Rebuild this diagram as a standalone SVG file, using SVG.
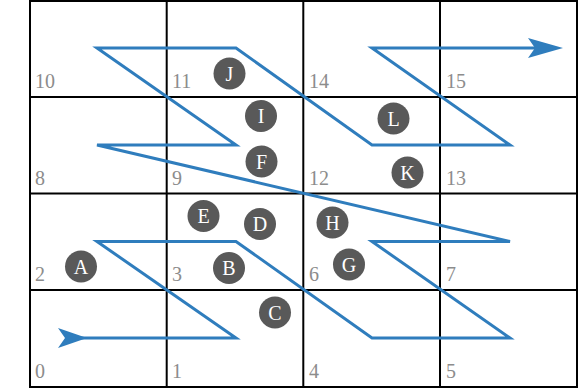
<svg xmlns="http://www.w3.org/2000/svg" width="579" height="391" viewBox="0 0 579 391">
<style>
.grid{fill:none;stroke:#000;stroke-width:2}
.num{font-family:"Liberation Serif",serif;font-size:20px;fill:#8c8c8c}
.dot circle{fill:#595959}
.dot text{font-family:"Liberation Serif",serif;font-size:20px;fill:#fff;text-anchor:middle}
.curve{fill:none;stroke:#2f7dbd;stroke-width:3;stroke-linejoin:miter}
.head{fill:#2f7dbd}
</style>
<rect width="579" height="391" fill="#fff"/>
<g id="grid">
<rect class="grid" x="30" y="1" width="547" height="386"/>
<path class="grid" d="M166.7 1V387M303.3 1V387M440 1V387M30 97H577M30 193.5H577M30 290H577"/>
</g>
<g id="cell-labels">
<text class="num" x="35" y="88">10</text>
<text class="num" x="172" y="88">11</text>
<text class="num" x="309" y="88">14</text>
<text class="num" x="446" y="88">15</text>
<text class="num" x="35" y="185">8</text>
<text class="num" x="172" y="185">9</text>
<text class="num" x="309" y="185">12</text>
<text class="num" x="446" y="185">13</text>
<text class="num" x="35" y="281">2</text>
<text class="num" x="172" y="281">3</text>
<text class="num" x="309" y="281">6</text>
<text class="num" x="446" y="281">7</text>
<text class="num" x="35" y="378">0</text>
<text class="num" x="172" y="378">1</text>
<text class="num" x="309" y="378">4</text>
<text class="num" x="446" y="378">5</text>
</g>
<g id="connectors">
<polyline class="curve" points="65,338 236,338 97,241.5 236,241.5 372,338 510,338 372,241.5 510,241.5 97,145 236,145 97,48 236,48 372,145 510,145 372,48 536,48"/>
<polygon class="head" points="58,328 87,338 58,348 65,338"/>
<polygon class="head" points="528,38 563,48 528,58 535,48"/>
</g>
<g id="node-A" class="dot"><circle cx="81" cy="266.5" r="16"/><text x="81" y="273.5">A</text></g>
<g id="node-B" class="dot"><circle cx="229" cy="268" r="16"/><text x="229" y="275">B</text></g>
<g id="node-C" class="dot"><circle cx="275" cy="312.5" r="16"/><text x="275" y="319.5">C</text></g>
<g id="node-D" class="dot"><circle cx="260" cy="224" r="16"/><text x="260" y="231">D</text></g>
<g id="node-E" class="dot"><circle cx="203.5" cy="216" r="16"/><text x="203.5" y="223">E</text></g>
<g id="node-F" class="dot"><circle cx="261.5" cy="161.5" r="16"/><text x="261.5" y="168.5">F</text></g>
<g id="node-G" class="dot"><circle cx="349" cy="264.5" r="16"/><text x="349" y="271.5">G</text></g>
<g id="node-H" class="dot"><circle cx="332.5" cy="222.5" r="16"/><text x="332.5" y="229.5">H</text></g>
<g id="node-I" class="dot"><circle cx="261" cy="116" r="16"/><text x="261" y="123">I</text></g>
<g id="node-J" class="dot"><circle cx="229.5" cy="73.5" r="16"/><text x="229.5" y="80.5">J</text></g>
<g id="node-K" class="dot"><circle cx="407.5" cy="172.5" r="16"/><text x="407.5" y="179.5">K</text></g>
<g id="node-L" class="dot"><circle cx="393.5" cy="118.5" r="16"/><text x="393.5" y="125.5">L</text></g>
</svg>
